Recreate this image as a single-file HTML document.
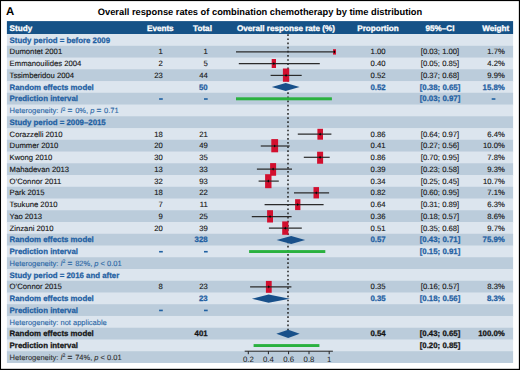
<!DOCTYPE html><html><head><meta charset="utf-8"><title>Forest plot</title><style>
html,body{margin:0;padding:0;background:#fff;overflow:hidden;}svg{display:block;}
text{font-family:"Liberation Sans",sans-serif;text-rendering:geometricPrecision;}
.b{font-weight:bold;}
</style></head><body>
<svg width="520" height="370" viewBox="0 0 520 370">
<rect x="0" y="0" width="520" height="370" fill="#000"/>
<rect x="1.03" y="1.1" width="517.83" height="367.7" fill="#fff"/>
<text x="6" y="14.8" font-size="11.4" class="b" fill="#000">A</text>
<text x="260" y="15" font-size="9.3" class="b" fill="#000" text-anchor="middle">Overall response rates of combination chemotherapy by time distribution</text>
<rect x="6.9" y="21.1" width="506.2" height="12.95" fill="#165287"/>
<g fill="#fff" class="b" font-size="8.15" stroke="#fff" stroke-width="0.3">
<text x="9.6" y="30.55">Study</text>
<text x="160.3" y="30.55" text-anchor="middle">Events</text>
<text x="202.5" y="30.55" text-anchor="middle">Total</text>
<text x="286" y="30.55" text-anchor="middle">Overall response rate (%)</text>
<text x="378" y="30.55" text-anchor="middle">Proportion</text>
<text x="440" y="30.55" text-anchor="middle">95%–CI</text>
<text x="495.7" y="30.55" text-anchor="middle">Weight</text>
</g>
<rect x="6.9" y="34.05" width="506.2" height="12.75" fill="#dce5ee"/>
<rect x="6.9" y="45.8" width="506.2" height="12.75" fill="#bbccdb"/>
<rect x="6.9" y="57.54" width="506.2" height="12.75" fill="#dce5ee"/>
<rect x="6.9" y="69.29" width="506.2" height="12.75" fill="#bbccdb"/>
<rect x="6.9" y="81.04" width="506.2" height="12.75" fill="#dce5ee"/>
<rect x="6.9" y="92.78" width="506.2" height="12.75" fill="#bbccdb"/>
<rect x="6.9" y="104.53" width="506.2" height="12.75" fill="#dce5ee"/>
<rect x="6.9" y="116.28" width="506.2" height="12.75" fill="#bbccdb"/>
<rect x="6.9" y="128.03" width="506.2" height="12.75" fill="#dce5ee"/>
<rect x="6.9" y="139.77" width="506.2" height="12.75" fill="#bbccdb"/>
<rect x="6.9" y="151.52" width="506.2" height="12.75" fill="#dce5ee"/>
<rect x="6.9" y="163.27" width="506.2" height="12.75" fill="#bbccdb"/>
<rect x="6.9" y="175.01" width="506.2" height="12.75" fill="#dce5ee"/>
<rect x="6.9" y="186.76" width="506.2" height="12.75" fill="#bbccdb"/>
<rect x="6.9" y="198.51" width="506.2" height="12.75" fill="#dce5ee"/>
<rect x="6.9" y="210.25" width="506.2" height="12.75" fill="#bbccdb"/>
<rect x="6.9" y="222" width="506.2" height="12.75" fill="#dce5ee"/>
<rect x="6.9" y="233.75" width="506.2" height="12.75" fill="#bbccdb"/>
<rect x="6.9" y="245.5" width="506.2" height="12.75" fill="#dce5ee"/>
<rect x="6.9" y="257.24" width="506.2" height="12.75" fill="#bbccdb"/>
<rect x="6.9" y="268.99" width="506.2" height="12.75" fill="#dce5ee"/>
<rect x="6.9" y="280.74" width="506.2" height="12.75" fill="#bbccdb"/>
<rect x="6.9" y="292.48" width="506.2" height="12.75" fill="#dce5ee"/>
<rect x="6.9" y="304.23" width="506.2" height="12.75" fill="#bbccdb"/>
<rect x="6.9" y="315.98" width="506.2" height="12.75" fill="#dce5ee"/>
<rect x="6.9" y="327.73" width="506.2" height="12.75" fill="#bbccdb"/>
<rect x="6.9" y="339.47" width="506.2" height="12.75" fill="#dce5ee"/>
<rect x="6.9" y="351.22" width="506.2" height="11.75" fill="#bbccdb"/>
<line x1="288" y1="34.25" x2="288" y2="330.3" stroke="#222" stroke-width="1.5" stroke-dasharray="1.7 2.447"/>
<rect x="333" y="49.2" width="3" height="5.4" fill="#d20f2e"/>
<line x1="236" y1="51.8" x2="334.2" y2="51.8" stroke="#2b2b2b" stroke-width="1.2"/>
<path d="M334.5 50.2L335.3 51.8L334.5 53.4L333.7 51.8Z" fill="#000"/>
<rect x="271.7" y="59" width="4.3" height="9" fill="#d20f2e"/>
<line x1="238.8" y1="63.6" x2="319.8" y2="63.6" stroke="#2b2b2b" stroke-width="1.2"/>
<path d="M273.85 62L274.65 63.6L273.85 65.2L273.05 63.6Z" fill="#000"/>
<rect x="282.9" y="68.5" width="6.3" height="13.3" fill="#d20f2e"/>
<line x1="270.6" y1="75.4" x2="301.7" y2="75.4" stroke="#2b2b2b" stroke-width="1.2"/>
<path d="M286.05 73.8L286.85 75.4L286.05 77L285.25 75.4Z" fill="#000"/>
<rect x="317.4" y="128.8" width="5.6" height="10.9" fill="#d20f2e"/>
<line x1="297.8" y1="134.2" x2="331.4" y2="134.2" stroke="#2b2b2b" stroke-width="1.2"/>
<path d="M320.2 132.6L321 134.2L320.2 135.8L319.4 134.2Z" fill="#000"/>
<rect x="271.3" y="139.1" width="6.8" height="13.2" fill="#d20f2e"/>
<line x1="260.75" y1="146" x2="289.7" y2="146" stroke="#2b2b2b" stroke-width="1.2"/>
<path d="M274.7 144.4L275.5 146L274.7 147.6L273.9 146Z" fill="#000"/>
<rect x="317.1" y="151.7" width="6" height="12.05" fill="#d20f2e"/>
<line x1="303.8" y1="157.3" x2="329.7" y2="157.3" stroke="#2b2b2b" stroke-width="1.2"/>
<path d="M320.1 155.7L320.9 157.3L320.1 158.9L319.3 157.3Z" fill="#000"/>
<rect x="270.1" y="163.1" width="6" height="12.65" fill="#d20f2e"/>
<line x1="256.9" y1="169.1" x2="292" y2="169.1" stroke="#2b2b2b" stroke-width="1.2"/>
<path d="M273.1 167.5L273.9 169.1L273.1 170.7L272.3 169.1Z" fill="#000"/>
<rect x="265.1" y="174.2" width="6.4" height="14" fill="#d20f2e"/>
<line x1="258.6" y1="181.1" x2="278.8" y2="181.1" stroke="#2b2b2b" stroke-width="1.2"/>
<path d="M268.3 179.5L269.1 181.1L268.3 182.7L267.5 181.1Z" fill="#000"/>
<rect x="313.5" y="187.1" width="5.5" height="11.3" fill="#d20f2e"/>
<line x1="294" y1="192.85" x2="329.1" y2="192.85" stroke="#2b2b2b" stroke-width="1.2"/>
<path d="M316.25 191.25L317.05 192.85L316.25 194.45L315.45 192.85Z" fill="#000"/>
<rect x="295.1" y="199.2" width="5.3" height="10.9" fill="#d20f2e"/>
<line x1="264.6" y1="204.6" x2="323.6" y2="204.6" stroke="#2b2b2b" stroke-width="1.2"/>
<path d="M297.75 203L298.55 204.6L297.75 206.2L296.95 204.6Z" fill="#000"/>
<rect x="267.1" y="210.2" width="5.9" height="12.3" fill="#d20f2e"/>
<line x1="251.8" y1="216.6" x2="291.6" y2="216.6" stroke="#2b2b2b" stroke-width="1.2"/>
<path d="M270.05 215L270.85 216.6L270.05 218.2L269.25 216.6Z" fill="#000"/>
<rect x="282.2" y="221.4" width="6.2" height="13.4" fill="#d20f2e"/>
<line x1="268.9" y1="228.2" x2="301.8" y2="228.2" stroke="#2b2b2b" stroke-width="1.2"/>
<path d="M285.3 226.6L286.1 228.2L285.3 229.8L284.5 228.2Z" fill="#000"/>
<rect x="265.9" y="280.9" width="5.8" height="11.9" fill="#d20f2e"/>
<line x1="250.1" y1="286.85" x2="291.4" y2="286.85" stroke="#2b2b2b" stroke-width="1.2"/>
<path d="M268.8 285.25L269.6 286.85L268.8 288.45L268 286.85Z" fill="#000"/>
<path d="M271.8 86.9L285.7 83L299.6 86.9L285.7 91Z" fill="#18508a"/>
<path d="M276.6 240L291.2 236L305.2 240L291.2 244.1Z" fill="#18508a"/>
<path d="M251.9 298.8L268.6 294.4L289.8 298.8L268.6 302.8Z" fill="#18508a"/>
<path d="M276.3 333.7L288.2 329.8L299.7 333.7L288.2 337.9Z" fill="#18508a"/>
<rect x="236" y="97.3" width="95.9" height="3" fill="#2ab13f"/>
<rect x="249.1" y="250.1" width="76.2" height="2.9" fill="#2ab13f"/>
<rect x="253.6" y="344.1" width="65.8" height="2.9" fill="#2ab13f"/>
<g stroke="#222" stroke-width="1">
<line x1="244.7" y1="351.2" x2="332.9" y2="351.2"/>
<line x1="248.3" y1="351.2" x2="248.3" y2="354.2"/>
<line x1="268.4" y1="351.2" x2="268.4" y2="354.2"/>
<line x1="288.6" y1="351.2" x2="288.6" y2="354.2"/>
<line x1="309" y1="351.2" x2="309" y2="354.2"/>
<line x1="329.2" y1="351.2" x2="329.2" y2="354.2"/>
</g>
<g fill="#1a1a1a" font-size="7.8" text-anchor="middle">
<text x="248.3" y="362.3">0.2</text>
<text x="268.4" y="362.3">0.4</text>
<text x="288.6" y="362.3">0.6</text>
<text x="309" y="362.3">0.8</text>
<text x="329.2" y="362.3">1</text>
</g>
<g fill="#1f60a2" font-size="7.85" class="b" stroke="#1f60a2" stroke-width="0.25">
<text x="9.6" y="42.67">Study period = before 2009</text>
</g>
<g fill="#141414" font-size="7.7" stroke="#141414" stroke-width="0.12">
<text x="9.6" y="54.42">Dumontet 2001</text>
<text x="162.9" y="54.42" text-anchor="end">1</text>
<text x="207.7" y="54.42" text-anchor="end">1</text>
<text x="378.1" y="54.42" text-anchor="middle">1.00</text>
<text x="440" y="54.42" text-anchor="middle">[0.03; 1.00]</text>
<text x="504.8" y="54.42" text-anchor="end">1.7%</text>
</g>
<g fill="#141414" font-size="7.7" stroke="#141414" stroke-width="0.12">
<text x="9.6" y="66.17">Emmanouilides 2004</text>
<text x="162.9" y="66.17" text-anchor="end">2</text>
<text x="207.7" y="66.17" text-anchor="end">5</text>
<text x="378.1" y="66.17" text-anchor="middle">0.40</text>
<text x="440" y="66.17" text-anchor="middle">[0.05; 0.85]</text>
<text x="504.8" y="66.17" text-anchor="end">4.2%</text>
</g>
<g fill="#141414" font-size="7.7" stroke="#141414" stroke-width="0.12">
<text x="9.6" y="77.91">Tssimberidou 2004</text>
<text x="162.9" y="77.91" text-anchor="end">23</text>
<text x="207.7" y="77.91" text-anchor="end">44</text>
<text x="378.1" y="77.91" text-anchor="middle">0.52</text>
<text x="440" y="77.91" text-anchor="middle">[0.37; 0.68]</text>
<text x="504.8" y="77.91" text-anchor="end">9.9%</text>
</g>
<g fill="#1f60a2" font-size="7.85" class="b" stroke="#1f60a2" stroke-width="0.25">
<text x="9.6" y="89.66">Random effects model</text>
<text x="207.7" y="89.66" text-anchor="end">50</text>
<text x="378.1" y="89.66" text-anchor="middle">0.52</text>
<text x="440" y="89.66" text-anchor="middle">[0.38; 0.65]</text>
<text x="504.8" y="89.66" text-anchor="end">15.8%</text>
</g>
<g fill="#1f60a2" font-size="7.85" class="b" stroke="#1f60a2" stroke-width="0.25">
<text x="9.6" y="101.41">Prediction interval</text>
<rect x="159.1" y="98.21" width="3.7" height="1.6" fill="#1f60a2" stroke="none"/>
<rect x="204" y="98.21" width="3.7" height="1.6" fill="#1f60a2" stroke="none"/>
<text x="440" y="101.41" text-anchor="middle">[0.03; 0.97]</text>
<rect x="491.7" y="98.21" width="3.7" height="1.6" fill="#1f60a2" stroke="none"/>
</g>
<g fill="#2c68a6" font-size="7.5" stroke="#2c68a6" stroke-width="0.12">
<text x="9.6" y="113.16">Heterogeneity: <tspan font-style="italic">I</tspan><tspan dy="-2.6" font-size="5.2">2</tspan><tspan dy="2.6"> <tspan font-weight="bold" font-size="8.2">=</tspan><tspan dx="0.7"> 0%</tspan>, </tspan><tspan font-style="italic">p</tspan> <tspan font-weight="bold" font-size="8.2">=</tspan><tspan dx="0.7"> 0.71</tspan></text>
</g>
<g fill="#1f60a2" font-size="7.85" class="b" stroke="#1f60a2" stroke-width="0.25">
<text x="9.6" y="124.9">Study period = 2009–2015</text>
</g>
<g fill="#141414" font-size="7.7" stroke="#141414" stroke-width="0.12">
<text x="9.6" y="136.65">Corazzelli 2010</text>
<text x="162.9" y="136.65" text-anchor="end">18</text>
<text x="207.7" y="136.65" text-anchor="end">21</text>
<text x="378.1" y="136.65" text-anchor="middle">0.86</text>
<text x="440" y="136.65" text-anchor="middle">[0.64; 0.97]</text>
<text x="504.8" y="136.65" text-anchor="end">6.4%</text>
</g>
<g fill="#141414" font-size="7.7" stroke="#141414" stroke-width="0.12">
<text x="9.6" y="148.4">Dummer 2010</text>
<text x="162.9" y="148.4" text-anchor="end">20</text>
<text x="207.7" y="148.4" text-anchor="end">49</text>
<text x="378.1" y="148.4" text-anchor="middle">0.41</text>
<text x="440" y="148.4" text-anchor="middle">[0.27; 0.56]</text>
<text x="504.8" y="148.4" text-anchor="end">10.0%</text>
</g>
<g fill="#141414" font-size="7.7" stroke="#141414" stroke-width="0.12">
<text x="9.6" y="160.14">Kwong 2010</text>
<text x="162.9" y="160.14" text-anchor="end">30</text>
<text x="207.7" y="160.14" text-anchor="end">35</text>
<text x="378.1" y="160.14" text-anchor="middle">0.86</text>
<text x="440" y="160.14" text-anchor="middle">[0.70; 0.95]</text>
<text x="504.8" y="160.14" text-anchor="end">7.8%</text>
</g>
<g fill="#141414" font-size="7.7" stroke="#141414" stroke-width="0.12">
<text x="9.6" y="171.89">Mahadevan 2013</text>
<text x="162.9" y="171.89" text-anchor="end">13</text>
<text x="207.7" y="171.89" text-anchor="end">33</text>
<text x="378.1" y="171.89" text-anchor="middle">0.39</text>
<text x="440" y="171.89" text-anchor="middle">[0.23; 0.58]</text>
<text x="504.8" y="171.89" text-anchor="end">9.3%</text>
</g>
<g fill="#141414" font-size="7.7" stroke="#141414" stroke-width="0.12">
<text x="9.6" y="183.64">O’Connor 2011</text>
<text x="162.9" y="183.64" text-anchor="end">32</text>
<text x="207.7" y="183.64" text-anchor="end">93</text>
<text x="378.1" y="183.64" text-anchor="middle">0.34</text>
<text x="440" y="183.64" text-anchor="middle">[0.25; 0.45]</text>
<text x="504.8" y="183.64" text-anchor="end">10.7%</text>
</g>
<g fill="#141414" font-size="7.7" stroke="#141414" stroke-width="0.12">
<text x="9.6" y="195.38">Park 2015</text>
<text x="162.9" y="195.38" text-anchor="end">18</text>
<text x="207.7" y="195.38" text-anchor="end">22</text>
<text x="378.1" y="195.38" text-anchor="middle">0.82</text>
<text x="440" y="195.38" text-anchor="middle">[0.60; 0.95]</text>
<text x="504.8" y="195.38" text-anchor="end">7.1%</text>
</g>
<g fill="#141414" font-size="7.7" stroke="#141414" stroke-width="0.12">
<text x="9.6" y="207.13">Tsukune 2010</text>
<text x="162.9" y="207.13" text-anchor="end">7</text>
<text x="207.7" y="207.13" text-anchor="end">11</text>
<text x="378.1" y="207.13" text-anchor="middle">0.64</text>
<text x="440" y="207.13" text-anchor="middle">[0.31; 0.89]</text>
<text x="504.8" y="207.13" text-anchor="end">6.3%</text>
</g>
<g fill="#141414" font-size="7.7" stroke="#141414" stroke-width="0.12">
<text x="9.6" y="218.88">Yao 2013</text>
<text x="162.9" y="218.88" text-anchor="end">9</text>
<text x="207.7" y="218.88" text-anchor="end">25</text>
<text x="378.1" y="218.88" text-anchor="middle">0.36</text>
<text x="440" y="218.88" text-anchor="middle">[0.18; 0.57]</text>
<text x="504.8" y="218.88" text-anchor="end">8.6%</text>
</g>
<g fill="#141414" font-size="7.7" stroke="#141414" stroke-width="0.12">
<text x="9.6" y="230.63">Zinzani 2010</text>
<text x="162.9" y="230.63" text-anchor="end">20</text>
<text x="207.7" y="230.63" text-anchor="end">39</text>
<text x="378.1" y="230.63" text-anchor="middle">0.51</text>
<text x="440" y="230.63" text-anchor="middle">[0.35; 0.68]</text>
<text x="504.8" y="230.63" text-anchor="end">9.7%</text>
</g>
<g fill="#1f60a2" font-size="7.85" class="b" stroke="#1f60a2" stroke-width="0.25">
<text x="9.6" y="242.37">Random effects model</text>
<text x="207.7" y="242.37" text-anchor="end">328</text>
<text x="378.1" y="242.37" text-anchor="middle">0.57</text>
<text x="440" y="242.37" text-anchor="middle">[0.43; 0.71]</text>
<text x="504.8" y="242.37" text-anchor="end">75.9%</text>
</g>
<g fill="#1f60a2" font-size="7.85" class="b" stroke="#1f60a2" stroke-width="0.25">
<text x="9.6" y="254.12">Prediction interval</text>
<rect x="159.1" y="250.92" width="3.7" height="1.6" fill="#1f60a2" stroke="none"/>
<rect x="204" y="250.92" width="3.7" height="1.6" fill="#1f60a2" stroke="none"/>
<text x="440" y="254.12" text-anchor="middle">[0.15; 0.91]</text>
</g>
<g fill="#2c68a6" font-size="7.5" stroke="#2c68a6" stroke-width="0.12">
<text x="9.6" y="265.87">Heterogeneity: <tspan font-style="italic">I</tspan><tspan dy="-2.6" font-size="5.2">2</tspan><tspan dy="2.6"> <tspan font-weight="bold" font-size="8.2">=</tspan><tspan dx="0.7"> 82%</tspan>, </tspan><tspan font-style="italic">p</tspan> &lt; 0.01</text>
</g>
<g fill="#1f60a2" font-size="7.85" class="b" stroke="#1f60a2" stroke-width="0.25">
<text x="9.6" y="277.61">Study period = 2016 and after</text>
</g>
<g fill="#141414" font-size="7.7" stroke="#141414" stroke-width="0.12">
<text x="9.6" y="289.36">O’Connor 2015</text>
<text x="162.9" y="289.36" text-anchor="end">8</text>
<text x="207.7" y="289.36" text-anchor="end">23</text>
<text x="378.1" y="289.36" text-anchor="middle">0.35</text>
<text x="440" y="289.36" text-anchor="middle">[0.16; 0.57]</text>
<text x="504.8" y="289.36" text-anchor="end">8.3%</text>
</g>
<g fill="#1f60a2" font-size="7.85" class="b" stroke="#1f60a2" stroke-width="0.25">
<text x="9.6" y="301.11">Random effects model</text>
<text x="207.7" y="301.11" text-anchor="end">23</text>
<text x="378.1" y="301.11" text-anchor="middle">0.35</text>
<text x="440" y="301.11" text-anchor="middle">[0.18; 0.56]</text>
<text x="504.8" y="301.11" text-anchor="end">8.3%</text>
</g>
<g fill="#1f60a2" font-size="7.85" class="b" stroke="#1f60a2" stroke-width="0.25">
<text x="9.6" y="312.85">Prediction interval</text>
<rect x="159.1" y="309.65" width="3.7" height="1.6" fill="#1f60a2" stroke="none"/>
<rect x="204" y="309.65" width="3.7" height="1.6" fill="#1f60a2" stroke="none"/>
</g>
<g fill="#2c68a6" font-size="7.5" stroke="#2c68a6" stroke-width="0.12">
<text x="9.6" y="324.6">Heterogeneity: not applicable</text>
</g>
<g fill="#141414" font-size="7.85" class="b" stroke="#141414" stroke-width="0.25">
<text x="9.6" y="336.35">Random effects model</text>
<text x="207.7" y="336.35" text-anchor="end">401</text>
<text x="378.1" y="336.35" text-anchor="middle">0.54</text>
<text x="440" y="336.35" text-anchor="middle">[0.43; 0.65]</text>
<text x="504.8" y="336.35" text-anchor="end">100.0%</text>
</g>
<g fill="#141414" font-size="7.85" class="b" stroke="#141414" stroke-width="0.25">
<text x="9.6" y="348.1">Prediction interval</text>
<text x="440" y="348.1" text-anchor="middle">[0.20; 0.85]</text>
</g>
<g fill="#333" font-size="7.5" stroke="#333" stroke-width="0.12">
<text x="9.6" y="359.84">Heterogeneity: <tspan font-style="italic">I</tspan><tspan dy="-2.6" font-size="5.2">2</tspan><tspan dy="2.6"> <tspan font-weight="bold" font-size="8.2">=</tspan><tspan dx="0.7"> 74%</tspan>, </tspan><tspan font-style="italic">p</tspan> &lt; 0.01</text>
</g>
</svg></body></html>
